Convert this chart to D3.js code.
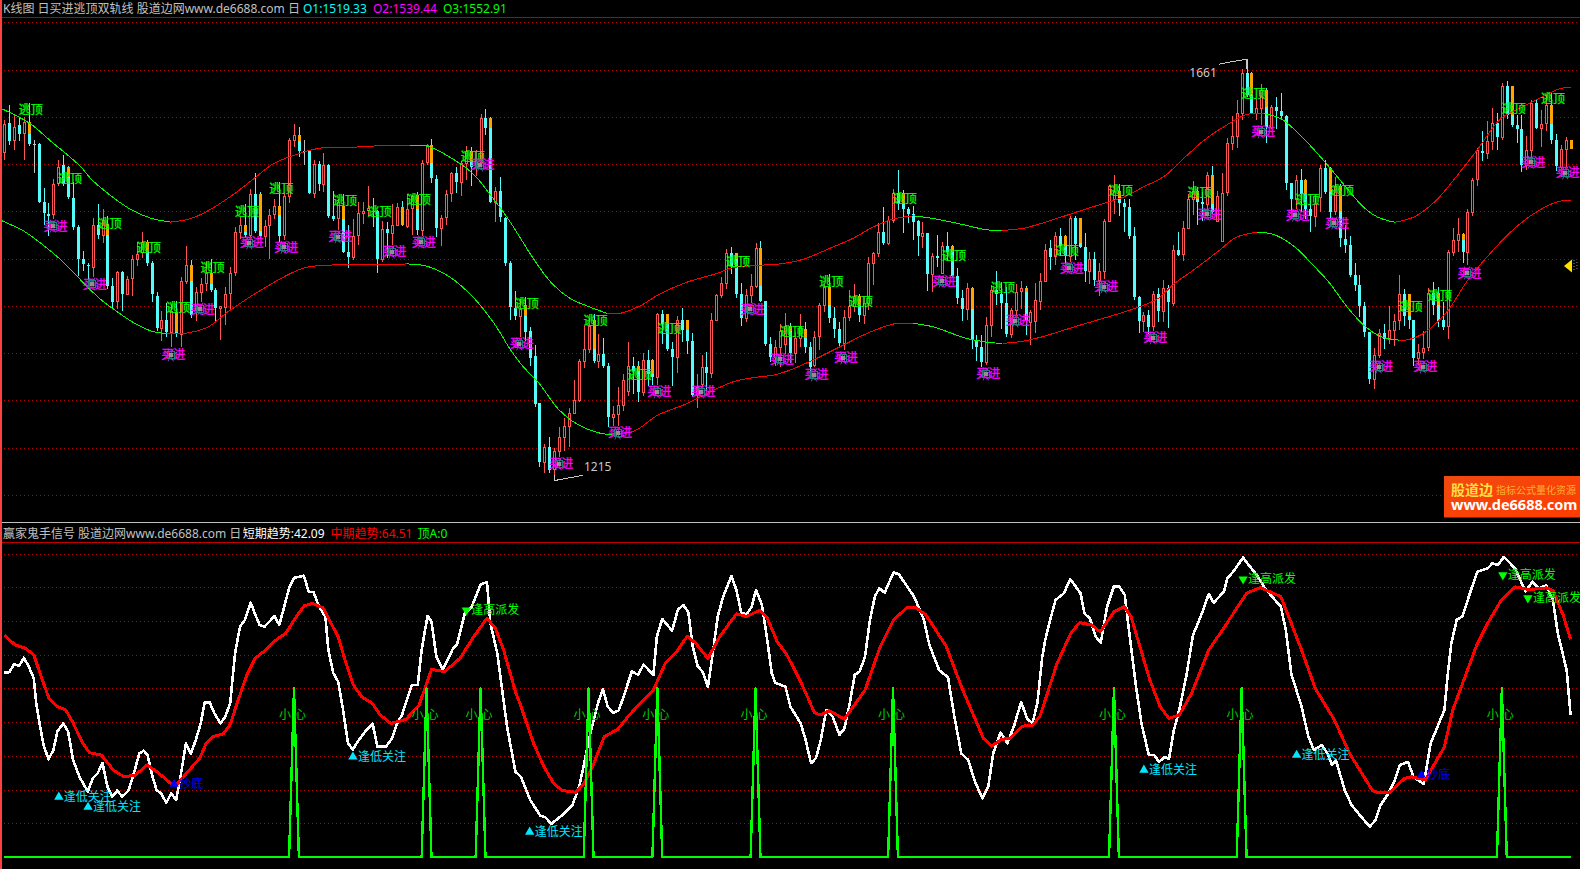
<!DOCTYPE html>
<html><head><meta charset="utf-8">
<style>html,body{margin:0;padding:0;background:#000;overflow:hidden}svg{display:block}
text{font-family:"Noto Sans","Noto Sans CJK SC",sans-serif}</style>
<script src="https://cdn.jsdelivr.net/npm/d3@7/dist/d3.min.js"></script></head><body>
<svg id="c" width="1580" height="869"></svg>
<script>
const opens=[1562.6,1593,1575,1591,1583,1594,1571.4,1571,1510,1497.6,
1497,1530,1548.5,1547.4,1514.6,1483,1449,1443.6,1441.5,1485,
1475,1486.7,1421.4,1404.8,1436,1412,1429.2,1449.6,1457,1468,
1445,1410.8,1377,1385.4,1372,1393,1370.6,1426.7,1443.3,1396.7,
1415,1424,1434.8,1417,1398,1398.4,1413.3,1435.5,1478.6,1485,
1475.4,1518.8,1518.5,1473.6,1485.6,1497.3,1506,1475,1516,1575,
1581,1564,1564,1519.5,1550,1529.4,1549.5,1494.5,1493,1506,
1457.4,1452,1475,1498.7,1501,1500,1500.8,1450,1481.4,1477.5,
1485.6,1505,1484.2,1503.3,1517.4,1480.7,1552,1570.4,1534.4,1482,
1493.7,1519,1540.7,1531.5,1551,1564,1546.7,1552,1599,1599,
1510,1522,1493,1445,1398,1389.6,1401,1373,1347.4,1297,
1234.4,1251,1227.3,1246.8,1261.6,1273.2,1286.7,1300.4,1342,1354.4,
1385,1342,1349,1336.8,1282,1285,1295.5,1310.3,1336.8,1336.8,
1308.5,1342.8,1342.8,1324.4,1390.8,1390.8,1354.4,1346,1385,1385,
1363,1305.7,1317.4,1335.7,1328.7,1385,1411,1423.8,1455.6,1455.6,
1412.5,1387.4,1411.4,1421,1461,1405,1359.5,1346,1356,1359.5,
1378.5,1349.6,1365.5,1375,1356,1337.7,1367.9,1400.8,1420.3,1386.7,
1375.4,1360.5,1388.4,1400,1410.4,1390.2,1402.6,1445,1455.6,1477.9,
1466.2,1491,1519.2,1519.2,1502.6,1497.3,1489.9,1474,1477.5,1433.7,
1452.8,1434.4,1463.4,1463.4,1431.6,1407.9,1396.2,1418.5,1363.7,1355.9,
1340.7,1379.6,1416.7,1413,1402.6,1369.7,1395.5,1416,1418.5,1383,
1384.2,1404.7,1426.6,1460.9,1453,1474.3,1474.3,1453,1492.7,1492.7,
1462,1437.2,1449.6,1427.6,1437.2,1490.2,1513.2,1522,1508.6,1505,
1474.3,1409.6,1383.4,1390.2,1378.2,1412.4,1394.8,1418.8,1403,1459.1,
1454.9,1482.4,1513.2,1522,1509.7,1507.2,1538,1489.5,1468.3,1520.3,
1572.6,1579.3,1604.4,1646.8,1646.8,1604.4,1609.7,1628,1589.2,1610.4,
1606.2,1600.5,1529.8,1513.2,1533.3,1533.3,1502.6,1494.5,1515.3,1546.2,
1546.2,1500.5,1526.9,1470.6,1464.3,1432.7,1422.1,1400,1371.8,1323,
1348.3,1371,1364.8,1374.7,1384.5,1412.6,1412.6,1384.5,1344.8,1351.1,
1356,1414,1414,1384.5,1378.2,1457.3,1469.6,1475.9,1457.3,1499.5,
1534.6,1563.4,1561.7,1574,1593.7,1578.6,1632.4,1632.4,1590.9,1586.7,
1549.4,1565.2,1614.4,1588.4,1593.3,1612,1575,1547,1566.3,1575];
const closes=[1592.6,1574,1589.4,1582,1594,1571.4,1571.4,1510,1498,1495.5,
1529,1547.4,1529,1515,1483,1449,1444,1442,1485,1475.4,
1491,1421.4,1404.5,1436,1412,1428.4,1449.6,1455,1468,1445,
1412.6,1376,1385.4,1372.7,1395,1370.6,1426.3,1443.3,1390,1414.3,
1423,1434.8,1416.8,1397.4,1399.5,1412.6,1434.8,1478.6,1485,1475.4,
1518.5,1479.6,1473.6,1484,1496,1505.4,1474.3,1516,1575,1581,
1563.3,1564,1519.5,1550,1529.4,1549.5,1494.5,1492.3,1510,1457.4,
1451.7,1474.3,1498.4,1500.8,1503,1500,1450,1481.4,1477,1485.6,
1505,1485,1502.6,1516.7,1480.7,1551.3,1570.4,1535,1482,1493,
1518.5,1540.7,1531.5,1551,1564,1546.7,1553,1599,1588,1510,
1521,1493.8,1445,1398.4,1389.6,1397,1372.7,1345,1296.2,1234.4,
1251,1226.3,1246.8,1261.6,1273,1286.7,1300.4,1342,1354.4,1379,
1342,1349,1336.8,1282,1285,1295.2,1321.6,1336,1331.5,1308.5,
1342.8,1328,1324.4,1390.8,1381,1354.4,1346,1385,1374,1363,
1305.7,1314,1335.7,1328.7,1385,1411,1423.8,1455.6,1442,1412.5,
1386.7,1411,1421,1461,1405,1359.5,1346,1356,1373.6,1378.5,
1349.6,1365.5,1377.8,1356,1335.4,1367.2,1400.8,1420.3,1386.7,1375.4,
1360.9,1388.4,1400,1410.4,1390.2,1402.6,1445,1455.6,1477.9,1466.2,
1491,1519.2,1508.6,1502.6,1497.3,1489.2,1474,1476.8,1433.7,1452.8,
1451,1463.4,1457.4,1431.6,1407.9,1396.6,1418.5,1363.7,1355.9,1340.7,
1379.6,1416.7,1413,1402.6,1369.7,1395.5,1415,1418.5,1383.8,1393.6,
1406,1426.6,1459.5,1451.3,1474.3,1463,1453,1492.7,1465.5,1462,
1437.2,1449.6,1427.6,1437.2,1490.2,1527,1522,1508.6,1505,1474.3,
1409.6,1383.4,1390.2,1377.8,1412.4,1394.8,1418.8,1403.6,1459.1,1454,
1482.4,1513.2,1522,1509.7,1507.2,1538,1499,1515.7,1519.6,1572.6,
1579.3,1604.4,1646.8,1623.5,1604.4,1609.7,1628,1589.2,1610.4,1606.2,
1600.5,1529.8,1513.2,1533.3,1518.5,1502.6,1494.5,1507.2,1546.2,1520.6,
1499.5,1526.9,1471.3,1464.3,1432.7,1422.1,1400,1371.8,1323,1348.3,
1371,1364.8,1374.7,1383.4,1412.6,1388.7,1384.5,1344.8,1351.1,1355.3,
1414,1401,1383.4,1377.5,1456.6,1469.6,1475.9,1457.3,1498.8,1533.6,
1565.2,1561.7,1574,1593.7,1578.6,1632.4,1602.1,1590.9,1586.7,1549.4,
1565.2,1614.4,1588.4,1592.6,1612,1575,1547.6,1566.3,1575,1566.3];
const highs=[1597,1612,1603,1599,1600,1615,1575,1572,1525,1509,
1534,1554.5,1560,1548,1531,1485,1458.5,1445,1493,1508,
1502.6,1495,1429,1437,1437,1432,1454,1467,1478.6,1470,
1447,1414.3,1395,1403,1402,1405.5,1430,1463.7,1448,1419.6,
1429,1446,1449,1419.3,1400,1419.6,1440.8,1483,1494,1508,
1523.8,1541,1520,1491,1502,1512.5,1531.5,1520,1578,1592,
1588.7,1575,1565,1553.8,1552.7,1562,1550,1522,1513,1518.5,
1485.6,1492,1510.3,1510.3,1527,1514,1501.5,1489.5,1489,1508,
1509,1511,1518,1517,1520,1553.8,1571.4,1576,1538,1496.6,
1523,1542,1547.4,1552.7,1569.6,1568,1565,1602.5,1608.5,1600,
1525.5,1536.5,1494,1447.5,1416,1407,1409.4,1377.4,1358,1297.3,
1254,1261.6,1250,1272,1281.4,1292,1322,1343.8,1379,1387,
1391.5,1370.3,1366,1339.6,1293.7,1314.5,1328,1362,1346.3,1341.4,
1350,1353.4,1344,1392.6,1395.7,1391,1362,1389.7,1398,1385.5,
1371,1328,1348.4,1351,1392,1412.7,1430,1460,1462,1456,
1423.8,1417.4,1433.3,1466,1468.7,1405.4,1367,1363.7,1380.7,1392,
1382,1372.5,1391.3,1382.8,1361.2,1373.6,1403.3,1423,1433.3,1399,
1383,1395.5,1416.7,1423,1413,1409.6,1452,1457.4,1487.4,1505,
1495,1523.5,1544,1522.8,1505,1505.8,1491,1488.5,1477.5,1455.6,
1475,1467,1477.9,1464,1439.7,1416.7,1423.8,1419.6,1369,1369,
1388.5,1422,1436.9,1425.6,1420,1397.3,1423,1426.6,1421,1395.5,
1424,1434.7,1465,1469.7,1477.9,1482,1475,1495,1495.5,1493,
1476.8,1457.3,1456.6,1445,1492,1527.6,1538.6,1529,1513,1513,
1483.5,1410.7,1393.7,1395.8,1416,1418.8,1427.6,1422.3,1464.4,1478.5,
1490.2,1518.5,1531.6,1525.6,1520,1542,1547.5,1522,1540.8,1577.5,
1600.5,1617.5,1650.4,1661,1647,1619.2,1634.4,1630,1613,1621,
1625.3,1601.6,1530,1538,1545,1534,1516.5,1516.5,1548.7,1554.7,
1547,1536.4,1529.4,1485.4,1473.8,1445,1432.7,1403.8,1372,1355.3,
1375.4,1381,1400,1391.5,1432.7,1417.5,1413,1385,1359.5,1372.9,
1418.6,1424.9,1419.7,1404.5,1459,1481.9,1492.4,1476.6,1502,1535.7,
1567.3,1584.5,1596,1609.2,1604.2,1635.9,1638.4,1633,1601.4,1602.1,
1579.3,1618,1617.3,1607.4,1623.6,1626,1581.4,1569.8,1578.6,1575];
const lows=[1554,1570,1565,1574,1554,1569,1541,1509,1485,1474,
1492,1526.6,1527,1513,1480,1432,1437,1426.6,1430,1471,
1466,1418,1396.6,1397,1394,1411,1410,1442,1451,1442.6,
1404,1373.8,1363,1366.7,1356,1366.7,1356,1423,1387,1384.3,
1404.5,1416,1414.3,1383.3,1364,1379.7,1396.7,1432,1471,1472.6,
1473,1477,1471,1462,1450,1492,1468,1470,1508.6,1568,
1557,1549.5,1518.5,1514,1522,1520.2,1492.7,1489.5,1480.7,1456,
1440,1448.6,1464.8,1486.7,1495,1483,1434.5,1446.8,1450.7,1464.8,
1484,1484,1482,1475.4,1475,1474.3,1549,1530,1472.6,1463.7,
1486,1509.6,1519,1516,1532.6,1527.3,1537,1550,1581,1509,
1488.5,1489,1442.6,1385.4,1385.4,1366.7,1363,1336.8,1293.4,1229.8,
1222.8,1222.8,1214.6,1239.7,1246.8,1250.9,1285.6,1298,1334.3,1350,
1340,1334.3,1334.3,1272.2,1273.2,1273.2,1288.4,1305,1307,1298,
1305,1315.6,1316,1316.7,1359.7,1352,1315.6,1328.7,1362,1349,
1303.3,1291.6,1314.5,1310.3,1323.7,1383.7,1408,1418,1433.5,1408.6,
1379,1383,1402.5,1418.5,1403.6,1357.3,1340.7,1336,1335,1349.5,
1340,1339.7,1356.6,1349.6,1328.3,1335.4,1353,1393.8,1382,1365.5,
1356,1353,1383.8,1393.8,1383,1380.7,1395.5,1422,1452,1464.4,
1464.4,1487.4,1501.6,1477.5,1487.4,1469.7,1453.1,1461.6,1416,1415,
1441.5,1433.7,1447,1430,1401.9,1383.8,1384.9,1354,1341.8,1335.4,
1337.2,1367.2,1400.8,1375.4,1367.2,1365.5,1390.2,1396.2,1369,1358,
1370.8,1396,1424.8,1438,1443.5,1453,1445,1446.7,1448.8,1460.9,
1424.8,1423,1420.6,1410.7,1428.4,1488.4,1497,1495.5,1477.9,1470.8,
1406.4,1370.7,1371.8,1370,1373.6,1382.4,1382.4,1377,1400,1453,
1447,1481.4,1496.2,1486,1490,1499,1497.3,1488.4,1468,1516.7,
1564.5,1567,1596.3,1621,1603,1596.3,1591.7,1572.2,1586.7,1586.7,
1598,1523,1500.8,1502.6,1499,1492,1477.9,1483,1499.5,1518,
1490,1496,1462.5,1456.2,1430.9,1416.1,1387.7,1366.6,1317.7,1312.4,
1344.8,1354.6,1359.9,1357.8,1374.7,1378.2,1375.7,1336,1337.7,1344.1,
1351.8,1390.5,1377.5,1374.7,1364.8,1452.7,1457.3,1445.7,1443,1495.3,
1526.9,1553.3,1555,1564.5,1564.5,1575,1597.9,1589,1572.3,1541.7,
1543.4,1554.7,1587.4,1568,1584.9,1570.8,1542.7,1545.2,1547,1566.3];
const orangeBars=[5,13,21,29,35,38,42,49,52,56,60,69,81,84,87,95,99,106,120,129,132,135,139,149,154,160,163,168,174,183,193,197,208,216,219,227,243,246,254,257,265,270,272,286,292,297,307,315,319];
const orangeEnds=[1582,1536,1475,1457,1372.7,1426.7,1423,1478.6,1479.6,1496,1574.6,1492,1485,1502.6,1551.3,1553,1588,1389.6,1354.4,1331.5,1328,1381,1374,1450,1421,1373,1365.5,1400.8,1400,1508.6,1457.4,1396.6,1415,1464,1466,1515,1513,1507.2,1623.5,1610.4,1518.5,1520.6,1500.5,1388.7,1401,1469.6,1602,1592.6,1566.3];
const greyBars=[6,61,75];

const upperBars=[-0.5,5.2,9.3,15.4,18.1,25.6,29.7,33.8,37.8,41.3,46.6,50.7,54.7,58.8,64.3,69.8,75.9,82.6,86.1,90.2,95.5,98.9,102.4,105,107.7,111.5,115.2,118.7,122.8,125.4,129.5,133.5,139,145.2,148.4,153.9,158,162.7,168.2,172.9,176.9,181,185.1,189.1,194.6,200.1,203.2,207.5,210.9,215.2,221.5,228.4,231.9,236.2,240.5,244.5,249.4,253.1,256.6,260,264.3,268.4,272.7,276.9,279.7,283.2,287.3,291.6,295.9,299.9,304.8,309.1,312.5,316.8,319];
const upperVals=[1608.5,1593,1575,1548,1532,1502.4,1493,1488.6,1492,1500,1517.6,1534,1550,1559,1566.8,1567.5,1569.2,1570,1569,1559,1539.5,1518,1493.6,1472.6,1450.3,1423.8,1407.9,1399.8,1392,1392,1400,1412.5,1424.9,1434.4,1440.4,1442.9,1444.3,1449.2,1461,1471.5,1483.2,1491.7,1495.2,1492.4,1486.7,1480.4,1479.7,1482,1486.7,1493.8,1504.4,1516,1525.6,1536.9,1557.4,1575.8,1592.7,1602.6,1603.3,1598,1578.6,1555.6,1529,1504,1493.8,1488.4,1494.5,1511.4,1537.9,1564.4,1598,1610.4,1619.2,1629.8,1630.6];
const lowerBars=[-0.5,3.8,5.8,11.3,16,19.5,22.2,26.2,30.3,33.2,36.4,41.4,45.4,49.4,52.1,56.8,60.8,64.3,69,75.9,82,86.1,90.8,95.5,99.6,103,105.5,109,112.8,116.6,120.6,123.8,128.5,133,139,145.2,148.4,152.5,156.6,159.4,164.7,170.2,175.7,179.8,181.8,185.1,189.1,196,200.7,203.3,207.5,210.9,218.7,225.6,230.5,234.8,238.2,242.5,247.4,250.9,255.1,258.6,262.9,266.3,269.8,273.3,277,280.5,284,285.4,288.8,293.7,298,302.2,307.1,312.5,316.8,319];
const lowerVals=[1490,1479.6,1472.6,1449.6,1425,1407.3,1396.7,1382.6,1372.7,1370.6,1370.6,1377.3,1393.1,1407.3,1416.1,1430.2,1439.7,1442.6,1443.3,1443.3,1444.3,1441.9,1430.2,1409,1382.6,1354.3,1336.7,1317.4,1290.9,1275,1266.2,1263.4,1268,1284,1296.5,1312.5,1319.5,1324,1326.6,1330.8,1342.5,1356.6,1370.8,1378.9,1381.4,1381.4,1377.8,1365.5,1361.2,1360.2,1362.6,1366.5,1378.9,1389.5,1397.6,1407.1,1423,1439,1458.4,1472.5,1477.8,1475.4,1462,1444.3,1424.8,1400,1378.9,1367,1363.7,1363.7,1370,1393,1426.6,1453,1479.6,1500.8,1510.7,1511];

const escapeBars=[5,13,21,29,35,42,49,56,69,76,84,95,106,120,129,135,149,160,168,174,183,193,203,216,227,243,254,265,272,286,292,307,315];
const escapeVals=[1607.2,1535,1487.6,1462,1397.7,1441,1500.3,1523.6,1511,1500.3,1513,1558.5,1402,1384,1327,1375.5,1446.4,1373.3,1425.2,1405,1514,1452.7,1419,1459,1521.5,1519.4,1625,1512,1521.5,1399,1411.4,1608.3,1619];
const buyBars=[10,18,34,40,50,57,68,79,85,97,105,113,125,133,142,152,158,165,171,191,200,206,217,224,234,245,256,263,271,280,289,298,311,318];
const buyVals=[1484.4,1423,1348,1396.6,1466.5,1462,1473,1457,1467.5,1549,1359.6,1232.6,1265.4,1308.8,1308.8,1396.6,1343.7,1326.8,1344.8,1426.2,1328,1384,1440,1420,1366,1497,1584,1496,1487.6,1335.3,1335.3,1434.7,1552,1540.6];
const priceTicks=[1700,1650,1600,1550,1500,1450,1400,1350,1300,1250,1200];
const indicatorTicks=[90,80,70,60,50,40,30,20,10];

const shortBars=[0,1,2,3,4,5,6,6.5,7.3,8,9,10,10.8,12,13,14,15.3,17,18,19,20,21,22,23,24,25.3,26.3,27.5,28.4,29.2,30,31,32,33,34,35,36,37,38,39,40,40.8,41.8,42.8,44,45,46,47,48,49,50.2,51,52,53,54,55,56,57,58,59,61,62,63,64.1,65.4,66,67,68,69,70,71,72.2,73.5,75,76,77.7,79,80,81,82,83,84.2,85,86.2,87,88,89.3,90.3,91.4,92.2,93.8,95.2,97,98.3,99,100.4,101.4,102.4,104.1,105.2,107.1,109.2,110.2,111.4,113.6,115.7,117.1,118.1,119.2,120.9,121.9,122.9,124,125.1,126,127.8,129.1,130.2,132.2,132.9,134,136,137.2,138.3,139.3,140.2,141.2,142.2,143.3,144.3,145.3,146.4,148.1,149.1,150.1,151.2,152.2,153.1,154.3,155.3,156.3,157,159.1,160.1,162.2,163.2,164.3,165.3,166.3,167.4,168.7,170.1,171.1,172.2,173.2,174.2,175.3,176.3,177.3,178.2,179.3,181.1,182.2,185.3,187.3,188.4,190.4,192.2,193.5,194.9,196.3,197.7,199.2,200.4,201.4,202.9,204.3,205.7,207.1,208.3,209.4,210.4,211.4,212,213,214.1,215.8,217.1,219.2,220,221.1,222.3,223.3,224.6,226,227,228.2,229.3,230.5,231.6,233.1,234.2,235.2,236.3,237.2,238.2,239.3,240.7,242.1,243.9,245.3,246.3,248.4,249.1,250.5,252.3,253.7,255.1,256.8,260,261,262.1,264.2,265.6,266.7,268.3,269.5,270.4,271.2,273,274.4,275.8,278.1,279.3,280.3,281.7,283.1,284.2,285.9,287,289.1,290.5,293.3,294,294.7,295.8,297,298.6,300,302.1,303.1,304.2,305.4,307.7,309.8,311.2,312.6,314,315.4,316.4,318.2,319];
const shortVals=[54.8,54.8,57.2,56.6,59.1,56.4,53,45.6,38.6,33.2,29,31.7,37.2,39.6,37.2,28.8,23.8,19.4,23.3,24.8,27.8,20.9,17.9,19.7,17.9,19.7,24.3,30.7,31.5,30.2,24.8,19.9,18.7,16.1,18.9,16.9,24.8,33.7,30.7,34.7,39.6,45.8,45.9,42.6,39.6,41.6,45.6,60.4,68.3,70.3,75.4,72.3,68.8,68.3,69.8,71.5,68.8,74.2,79.7,82.8,83.4,78.7,78.5,74.2,71.3,61.4,54.5,52,43.6,33.7,31.9,34.7,37.2,39.6,32.7,32.7,35.2,39.6,42.1,46.6,51,51,61.4,71.5,69.8,59.4,55.6,58.4,61.9,62.9,72.3,74.2,80.7,81.6,69.3,60.4,49.5,38.6,25.3,23.8,16.9,12.2,11.8,9.8,12.4,15.4,20.9,27.8,35.7,45.6,49.8,44.6,42.8,43.4,47,55,54,57.1,54,65.3,70.6,67.1,73.4,74.7,72.7,62.4,56.6,55,50.5,60.4,71.3,77.2,83.3,79.2,72.4,72,74.2,79.2,74.7,65.3,54.5,51.7,50.5,44.6,39.6,34.7,27.8,29.3,34.7,43.6,41.6,36.2,38.1,45.6,54,55,59.4,70.3,77.2,79.7,78.4,84.4,83.8,77.2,70.3,62.9,55.4,53.3,41.6,30.7,28.8,22.3,17.4,20.9,30.7,36.9,33.7,39.1,46,41.1,39.6,45.6,59.4,64.3,70.3,76.2,78.2,82.4,78.2,72.2,70.7,65.3,63.5,74.2,80.3,80.3,77.7,64.3,50.5,39.6,30.2,30.2,28.2,29.7,29,37.6,43.6,53.4,65.8,72.2,78,75.4,78.7,82.6,85,88.8,86.1,83.6,79.6,74.2,67.3,54.4,44.6,35.7,31.7,33.2,30.7,27.3,28.7,19.8,15.4,12.9,9,11,15.4,18.4,22.3,27.3,28.2,23.8,21.6,33.7,43.6,54.4,63.3,70.3,71.4,78.7,84.6,85.6,87.1,86.6,89,85.6,78.7,81.6,79.6,80.6,76.2,66.3,55.4,42.09];
const midBars=[0,2.2,4.3,6,7.4,9.1,10.8,12.5,13.9,16,17.4,19.8,22.2,24.3,26.7,29.1,31.5,33.9,35.3,37.7,39.8,41.1,42.5,44.6,46,47.3,49.4,51.1,52.8,54.9,57.3,59.7,61.1,62.8,64.9,68,69.4,71.1,72.8,74.9,76.6,78.7,81.8,84.5,87,89.7,92.8,95.6,98.3,100,101.7,104.2,105,107.8,109.9,111.9,113.6,116.4,118.1,119.8,122.2,125,127,129.5,132.2,134.6,136.7,139.1,140.8,143.3,145.7,149.1,151.2,153.9,155.3,157.4,159.4,162.2,165,166.3,168,171.1,175.3,178.4,181.1,183.9,185.6,187.7,191.8,195.2,199.4,201.1,203.2,204.9,207.3,209.4,210.9,214.4,217.2,219,221.4,223.2,226,228.1,229.5,233.3,235.4,237.2,239.3,241.8,245.3,248.1,253,255.8,260,264.2,267,270.9,274,278.6,279.6,282.1,285.2,286.6,289.4,293.3,295,300,302.1,304.9,307.7,310.5,314,315.4,317.5,319];
const midVals=[65.8,62.9,61.9,59.9,54,47,44.6,43.6,40.1,33.7,30.9,30.2,25.8,23.8,24.3,27.3,24.8,21.8,21.8,25.8,29.3,33.7,35.7,36.5,39.2,45.1,54,58.9,60.9,63.9,66.3,71.8,74.5,75.2,73.9,65.3,58.4,51,47.5,45.6,42.1,39.6,40.8,45.1,55.6,55,58.9,65.3,70.8,67.8,61.4,48.5,45.6,33.7,26.8,21.8,19.7,19.2,21.8,26.8,35.7,37.9,41.6,45.6,49.5,57.4,60.4,65.5,63.4,58.9,65.3,72.1,71.3,73.2,71.1,63.9,59.9,52,42.8,42.1,43.4,40.9,49.5,62.4,70.3,74,74,71.8,62.6,49.5,35.2,32.9,34.9,35.2,38.8,39.1,41.6,57.4,66.3,69.5,68.8,66.8,72.7,74.2,71.2,52.5,44.6,41.1,42.1,48.5,61.4,67.3,78.2,79.9,77.2,61.4,50,40.6,30.7,19.8,19.1,19.1,23.3,23.8,22.8,32.7,43.6,63.3,69.3,76.2,80.1,79.3,79.8,79.1,71.7,64.51];
const spikeBars=[59,86,97,119,133,153,181,226,252,305];
const spikeValue=50;
const lowBars=[11.1,17.05,71,107,232.1,263.2];
const lowVals=[18.1,15.1,30,7.7,26.1,30.5];
const bottomBars=[34.6,288.6];
const bottomVals=[21.9,24.6];
const highSellBars=[94.1,252.3,305.2,310.3];
const highSellVals=[73.5,82.7,83.9,77.1];
const extremePrices=[1661,1215];
const extremeBars=[253,112];

const W=1580,H=869;
const svg=d3.select("#c");
const x=d3.scaleLinear().domain([0,319]).range([4.3,1570.6]);
const yP=d3.scaleLinear().domain([1200,1700]).range([494.8,22.3]);
const yI=d3.scaleLinear().domain([0,90]).range([857,553.5]);
svg.append("rect").attr("width",W).attr("height",H).attr("fill","#000");

// dotted grid through d3 axes
function grid(scale,ticks){
  const g=svg.append("g").attr("transform","translate(4,0)")
    .call(d3.axisRight(scale).tickValues(ticks).tickSize(W-4).tickFormat(""));
  g.select(".domain").remove();
  g.selectAll("line").attr("stroke","#b80000").attr("stroke-dasharray","1 3").attr("shape-rendering","crispEdges");
}
grid(yP,priceTicks);
grid(yI,indicatorTicks);

// frame
const frame=[[0,17.5,W,17.5,"#c00000",1],[0,522.5,W,522.5,"#c0c0c0",1],[0,542.5,W,542.5,"#c00000",1],[1,0,1,H,"#ff4040",2]];
svg.append("g").selectAll("line").data(frame).join("line")
 .attr("x1",d=>d[0]).attr("y1",d=>d[1]).attr("x2",d=>d[2]).attr("y2",d=>d[3])
 .attr("stroke",d=>d[4]).attr("stroke-width",d=>d[5]).attr("shape-rendering","crispEdges");

// candles
const RED="#ff5454",CY="#54fcfc",OR="#ffa500",GR="#c0c0c0";
const candles=d3.range(opens.length).map(i=>({i,o:opens[i],c:closes[i],h:highs[i],l:lows[i]}));
const cg=svg.append("g").attr("shape-rendering","crispEdges");
candles.forEach(d=>{
  const cx=Math.round(x(d.i));
  const top=Math.round(yP(Math.max(d.o,d.c))),bot=Math.round(yP(Math.min(d.o,d.c)));
  const hi=Math.round(yP(d.h)),lo=Math.round(yP(d.l));
  const grey=greyBars.includes(d.i);
  const up=d.c>d.o;
  const col=grey?GR:(up?RED:CY);
  if(hi<top)cg.append("rect").attr("x",cx).attr("y",hi).attr("width",1).attr("height",top-hi).attr("fill",col);
  if(lo>bot)cg.append("rect").attr("x",cx).attr("y",bot).attr("width",1).attr("height",lo-bot).attr("fill",col);
  if(up){
    cg.append("rect").attr("x",cx-1+.5).attr("y",top+.5).attr("width",2).attr("height",Math.max(bot-top,1)).attr("fill","#000").attr("stroke",col).attr("stroke-width",1);
  }else{
    cg.append("rect").attr("x",cx-1).attr("y",top).attr("width",3).attr("height",Math.max(bot-top,1)).attr("fill",col);
    const k=orangeBars.indexOf(d.i);
    if(k>=0){
      const e=Math.round(yP(orangeEnds[k]));
      cg.append("rect").attr("x",cx-1).attr("y",top).attr("width",3).attr("height",Math.max(e-top,1)).attr("fill",OR);
    }
  }
});

// channel bands: red while rising, green while falling
function band(bars,vals){
  const g=svg.append("g").attr("fill","none").attr("stroke-width",1).attr("shape-rendering","crispEdges");
  const ln=d3.line().x(d=>x(d[0])).y(d=>yP(d[1])).curve(d3.curveCatmullRom);
  const pts=bars.map((b,i)=>[b,vals[i]]);
  let start=0;
  const rising=i=>vals[i+1]>=vals[i];
  for(let i=1;i<=pts.length-1;i++){
    if(i===pts.length-1||rising(i)!==rising(start)){
      g.append("path").attr("d",ln(pts.slice(start,i+1))).attr("stroke",rising(start)?"#ff0000":"#00ff00");
      start=i;
    }
  }
}
band(upperBars,upperVals);
band(lowerBars,lowerVals);

// escape/buy labels
svg.append("g").selectAll("text").data(escapeBars).join("text")
 .attr("x",d=>x(d)+2).attr("y",(d,i)=>yP(escapeVals[i])+4.5)
 .attr("text-anchor","middle").attr("font-size",12).attr("stroke","#00ff00").attr("stroke-width",.25).attr("fill","#00ff00").text("逃顶");
const bg=svg.append("g");
buyBars.forEach((b,i)=>{
  const cx=x(b)+2,cy=yP(buyVals[i]);
  const ix=cx-2.5;
  d3.range(8).forEach(k=>{
    const a=k*Math.PI/4+.39;
    bg.append("line").attr("x1",ix).attr("y1",cy).attr("x2",ix+7*Math.cos(a)).attr("y2",cy+7*Math.sin(a)).attr("stroke","#8040c0").attr("stroke-width",1);
  });
  bg.append("text").attr("x",cx).attr("y",cy+4.5).attr("text-anchor","middle").attr("font-size",12).attr("stroke","#ff00ff").attr("stroke-width",.3).attr("fill","#ff00ff").text("买进");
  bg.append("rect").attr("x",ix-3.5).attr("y",cy-3.5).attr("width",7).attr("height",7).attr("fill","none").attr("stroke","#208080").attr("shape-rendering","crispEdges");
  bg.append("rect").attr("x",ix-2).attr("y",cy-2).attr("width",4).attr("height",4).attr("fill","#909090").attr("shape-rendering","crispEdges");
});

// extreme annotations
const ex=svg.append("g");
const exLines=[[[x(extremeBars[0])-28,64.3],[x(extremeBars[0])-14,61.5],[x(extremeBars[0]),59.3],[x(extremeBars[0]),yP(extremePrices[0])+10]],
               [[x(extremeBars[1]),yP(extremePrices[1])-6],[x(extremeBars[1]),yP(extremePrices[1])],[x(extremeBars[1])+14,478],[x(extremeBars[1])+29,475.3]]];
exLines.forEach(l=>ex.append("path").attr("d",d3.line()(l)).attr("fill","none").attr("stroke","#c8c8c8").attr("stroke-width",1).attr("shape-rendering","crispEdges"));
ex.append("text").attr("x",x(extremeBars[0])-43.5).attr("y",77).attr("text-anchor","middle").attr("font-size",12).attr("fill","#c8c8c8").text(extremePrices[0]);
ex.append("text").attr("x",x(extremeBars[1])+43.5).attr("y",471).attr("text-anchor","middle").attr("font-size",12).attr("fill","#c8c8c8").text(extremePrices[1]);

// yellow last-price marker
svg.append("path").attr("d","M1564,266L1572,259.5L1572,272.5Z").attr("fill","#ffe000");
svg.append("path").attr("d","M1574,260V272M1577,262V270").attr("stroke","#909090").attr("stroke-dasharray","1 2").attr("fill","none");

// watermark
const defs=svg.append("defs");
const lg=defs.append("linearGradient").attr("id","wm").attr("x1",0).attr("x2",1).attr("y1",0).attr("y2",1);
lg.append("stop").attr("offset",0).attr("stop-color","#f04a10");
lg.append("stop").attr("offset",1).attr("stop-color","#ff3c00");
svg.append("rect").attr("x",1444).attr("y",476).attr("width",136).attr("height",41.5).attr("fill","url(#wm)");
svg.append("text").attr("x",1451).attr("y",495).attr("font-size",14).attr("font-weight",700).attr("fill","#ffe040").text("股道边");
svg.append("text").attr("x",1496).attr("y",494).attr("font-size",10).attr("fill","#ffb030").text("指标公式量化资源");
svg.append("text").attr("x",1451).attr("y",510).attr("font-size",14.5).attr("font-weight",700).attr("fill","#fff").text("www.de6688.com");

// indicator lines
function poly(bars,vals,col,w){
  svg.append("path").attr("d",d3.line().x(d=>x(d[0])).y(d=>yI(d[1]))(bars.map((b,i)=>[b,vals[i]])))
   .attr("fill","none").attr("stroke",col).attr("stroke-width",w).attr("stroke-linejoin","round").attr("shape-rendering","crispEdges");
}
poly(shortBars,shortVals,"#ffffff",2.6);
poly(midBars,midVals,"#ff0000",3);
const topA=d3.range(320).map(i=>[i,spikeBars.includes(i)?spikeValue:0]);
poly(topA.map(d=>d[0]),topA.map(d=>d[1]),"#00ff00",2.4);

// labels on indicator
svg.append("g").selectAll("text").data(spikeBars).join("text")
 .attr("x",d=>x(d)).attr("y",714+5).attr("text-anchor","middle").attr("font-size",12).attr("letter-spacing",3).attr("fill","#00d000").text("小心");
function tagged(bars,vals,col,label,down){
  const g=svg.append("g");
  bars.forEach((b,i)=>{
    const cx=x(b),cy=yI(vals[i]);
    g.append("path").attr("d",d3.symbol(d3.symbolTriangle,38)()).attr("transform",`translate(${cx},${cy+1}) rotate(${down?180:0})`).attr("fill",col);
    g.append("text").attr("x",cx+5).attr("y",cy+5).attr("font-size",12).attr("fill",col).text(label);
  });
}
tagged(lowBars,lowVals,"#00e8ff","逢低关注",false);
tagged(bottomBars,bottomVals,"#0000ff","抄底",false);
tagged(highSellBars,highSellVals,"#00ff00","逢高派发",true);

// titles
const topTitle=["K线图 日买进逃顶双轨线 股道边网www.de6688.com 日","O1:1519.33","O2:1539.44","O3:1552.91"];
const lowTitle=["赢家鬼手信号 股道边网www.de6688.com 日","短期趋势:42.09","中期趋势:64.51","顶A:0"];
[[topTitle,12.5,[3,303,373,443],["#c0c0c0","#00ffff","#ff00ff","#00ff00"]],
 [lowTitle,537.5,[3,242.7,330.6,417.5],["#c0c0c0","#ffffff","#ff0000","#00ff00"]]].forEach(r=>{
  svg.append("g").selectAll("text").data(r[0]).join("text")
   .attr("x",(d,i)=>r[2][i]).attr("y",r[1]).attr("font-size",12).attr("fill",(d,i)=>r[3][i]).text(d=>d);
});
</script></body></html>
